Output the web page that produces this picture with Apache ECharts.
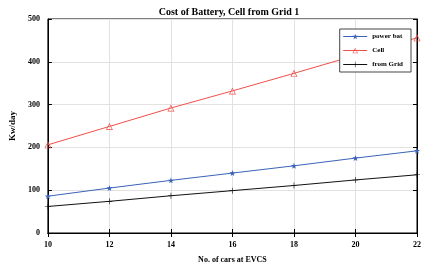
<!DOCTYPE html>
<html>
<head>
<meta charset="utf-8">
<script src="https://cdn.jsdelivr.net/npm/echarts@6/dist/echarts.min.js"></script>
<style>
  html, body { margin: 0; padding: 0; background: #fff; }
  #chart { width: 424px; height: 269px; }
</style>
</head>
<body>
<div id="chart"></div>
<script>
const carCounts = [10, 12, 14, 16, 18, 20, 22]
const powerBat = [86, 105, 123, 140, 157, 175, 192]
const cellCost = [206, 249, 292, 332, 373, 415, 456]
const fromGrid = [62, 74, 87, 99, 111, 124, 136]
const yTicks = [0, 100, 200, 300, 400, 500]

const serif = '"Liberation Serif", "DejaVu Serif", serif'
const starPath = 'path://M5,0 L6.2,3.6 L10,3.6 L7,5.9 L8.1,9.5 L5,7.3 L1.9,9.5 L3,5.9 L0,3.6 L3.8,3.6 Z'
const plusPath = 'path://M4.5,0 h1 v10 h-1 z M0,4.5 h10 v1 h-10 z'
// hollow triangle: outer outline plus an inner one drawn the other way round
const trianglePath = 'path://M5,0 L10,9 L0,9 Z M5,1.9 L1.5,8.1 L8.5,8.1 Z'

function toPairs(values) {
  return carCounts.map((x, i) => [x, values[i]])
}

const chart = echarts.init(document.getElementById('chart'))

const tickLabel = {
  fontFamily: serif,
  fontWeight: 'bold',
  fontSize: 8,
  color: '#000',
}

chart.setOption({
  animation: false,
  title: {
    text: 'Cost of Battery, Cell from Grid 1',
    left: 224,
    textAlign: 'center',
    top: 2,
    textStyle: { fontFamily: serif, fontWeight: 'bold', fontSize: 10, color: '#000' },
  },
  grid: {
    left: 30,
    right: 6,
    top: 19,
    bottom: 30,
    show: true,
    borderColor: '#000',
    borderWidth: 1,
  },
  legend: {
    orient: 'vertical',
    right: 13,
    top: 29,
    backgroundColor: '#fff',
    borderColor: '#444',
    borderWidth: 1,
    padding: [4, 8, 4, 3],
    itemGap: 7,
    itemWidth: 24,
    itemHeight: 7,
    lineStyle: { width: 1 },
    textStyle: { fontFamily: serif, fontWeight: 'bold', fontSize: 7, color: '#000' },
  },
  xAxis: [{
    type: 'value',
    min: 10,
    max: 22,
    interval: 2,
    name: 'No. of cars at EVCS',
    nameLocation: 'middle',
    nameGap: 23,
    nameTextStyle: { fontFamily: serif, fontWeight: 'bold', fontSize: 8, color: '#000' },
    axisLine: { lineStyle: { color: '#000' } },
    axisTick: { inside: true, length: 4, lineStyle: { color: '#000' } },
    axisLabel: Object.assign({ margin: 8 }, tickLabel),
    splitLine: { show: true, lineStyle: { color: '#e2e2e2', width: 1 } },
  }, {
    type: 'value',
    position: 'top',
    min: 10,
    max: 22,
    interval: 2,
    axisLine: { lineStyle: { color: '#000' } },
    axisTick: { inside: true, length: 4, lineStyle: { color: '#000' } },
    axisLabel: { show: false },
    splitLine: { show: false },
  }],
  yAxis: [{
    type: 'value',
    min: 0,
    max: 500,
    interval: 100,
    name: 'Kw/day',
    nameLocation: 'middle',
    nameGap: 21,
    nameTextStyle: { fontFamily: serif, fontWeight: 'bold', fontSize: 9, color: '#000' },
    axisLine: { show: true, lineStyle: { color: '#000' } },
    axisTick: { show: true, inside: true, length: 4, lineStyle: { color: '#000' } },
    axisLabel: Object.assign({
      margin: 8,
      formatter: (v) => (yTicks.includes(v) ? String(v) : ''),
    }, tickLabel),
    splitLine: { show: true, lineStyle: { color: '#e2e2e2', width: 1 } },
  }, {
    type: 'value',
    position: 'right',
    min: 0,
    max: 500,
    interval: 100,
    axisLine: { show: true, lineStyle: { color: '#000' } },
    axisTick: { show: true, inside: true, length: 4, lineStyle: { color: '#000' } },
    axisLabel: { show: false },
    splitLine: { show: false },
  }],
  series: [{
    name: 'power bat',
    type: 'line',
    data: toPairs(powerBat),
    symbol: starPath,
    symbolSize: 6,
    lineStyle: { color: '#3b63b8', width: 1 },
    itemStyle: { color: '#3b63b8' },
    z: 3,
  }, {
    name: 'Cell',
    type: 'line',
    data: toPairs(cellCost),
    symbol: trianglePath,
    symbolSize: 7,
    lineStyle: { color: '#f0504a', width: 1 },
    itemStyle: { color: '#f0504a', borderWidth: 0 },
    z: 2,
  }, {
    name: 'from Grid',
    type: 'line',
    data: toPairs(fromGrid),
    symbol: plusPath,
    symbolSize: 6,
    lineStyle: { color: '#111', width: 1 },
    itemStyle: { color: '#111' },
    z: 2,
  }],
})
</script>
</body>
</html>
